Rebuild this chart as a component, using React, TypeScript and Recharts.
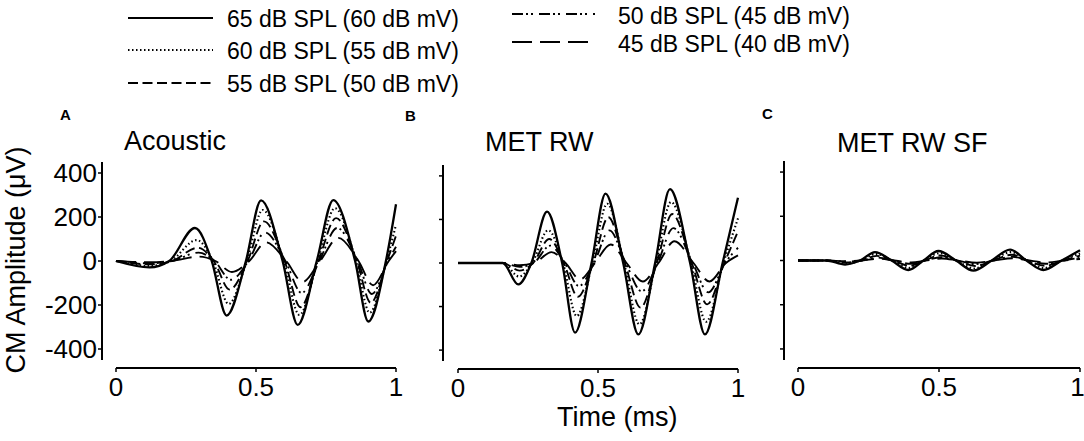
import { Line, LineChart, XAxis, YAxis } from "recharts";

type Pt = [number, number];

const FONT = "'Liberation Sans', Arial, Helvetica, sans-serif";

// stimulus levels, legend order
const levels = [
  "65 dB SPL (60 dB mV)",
  "60 dB SPL (55 dB mV)",
  "55 dB SPL (50 dB mV)",
  "50 dB SPL (45 dB mV)",
  "45 dB SPL (40 dB mV)",
];
const yTicks = [-400, -200, 0, 200, 400];
const xTicks = [0, 0.5, 1];

// [time ms, amplitude uV] at peaks / troughs / zero crossings
const acoustic65: Pt[] = [[0, 0], [0.12, -29], [0.19, 0], [0.282, 150], [0.342, 0], [0.395, -248], [0.464, 0], [0.518, 276], [0.595, 0], [0.649, -290], [0.717, 0], [0.776, 277], [0.854, 0], [0.901, -275], [0.964, 0], [1, 258]];
const acoustic60: Pt[] = [[0, 0], [0.12, -22], [0.195, 0], [0.288, 95], [0.346, 0], [0.402, -195], [0.467, 0], [0.524, 232], [0.599, 0], [0.655, -245], [0.72, 0], [0.782, 240], [0.857, 0], [0.906, -235], [0.966, 0], [1, 165]];
const acoustic55: Pt[] = [[0, 0], [0.12, -15], [0.2, 0], [0.292, 60], [0.349, 0], [0.406, -130], [0.47, 0], [0.528, 180], [0.602, 0], [0.659, -210], [0.723, 0], [0.786, 195], [0.86, 0], [0.91, -190], [0.968, 0], [1, 115]];
const acoustic50: Pt[] = [[0, 0], [0.12, -10], [0.2, 0], [0.295, 38], [0.352, 0], [0.41, -85], [0.473, 0], [0.532, 130], [0.605, 0], [0.663, -145], [0.726, 0], [0.79, 150], [0.863, 0], [0.914, -150], [0.971, 0], [1, 65]];
const acoustic45: Pt[] = [[0, 0], [0.12, -6], [0.2, 0], [0.298, 20], [0.355, 0], [0.414, -50], [0.476, 0], [0.536, 85], [0.608, 0], [0.667, -95], [0.729, 0], [0.794, 105], [0.866, 0], [0.918, -110], [0.974, 0], [1, 45]];

const metRw65: Pt[] = [[0, 0], [0.16, 0], [0.215, -98], [0.262, 0], [0.318, 236], [0.372, 0], [0.418, -320], [0.477, 0], [0.527, 319], [0.59, 0], [0.644, -328], [0.704, 0], [0.757, 339], [0.829, 0], [0.882, -328], [0.945, 0], [1, 300]];
const metRw60: Pt[] = [[0, 0], [0.16, 0], [0.218, -62], [0.265, 0], [0.322, 150], [0.375, 0], [0.424, -244], [0.48, 0], [0.533, 272], [0.593, 0], [0.648, -282], [0.707, 0], [0.761, 280], [0.832, 0], [0.886, -270], [0.948, 0], [1, 205]];
const metRw55: Pt[] = [[0, 0], [0.16, 0], [0.22, -35], [0.268, 0], [0.326, 110], [0.378, 0], [0.428, -155], [0.483, 0], [0.537, 210], [0.596, 0], [0.652, -205], [0.71, 0], [0.765, 225], [0.835, 0], [0.89, -190], [0.951, 0], [1, 145]];
const metRw50: Pt[] = [[0, 0], [0.16, 0], [0.22, -18], [0.27, 0], [0.33, 80], [0.381, 0], [0.432, -106], [0.486, 0], [0.541, 150], [0.599, 0], [0.656, -130], [0.713, 0], [0.769, 160], [0.838, 0], [0.894, -135], [0.954, 0], [1, 70]];
const metRw45: Pt[] = [[0, 0], [0.16, 0], [0.22, -10], [0.272, 0], [0.334, 50], [0.384, 0], [0.436, -75], [0.489, 0], [0.545, 85], [0.602, 0], [0.66, -85], [0.716, 0], [0.773, 100], [0.841, 0], [0.898, -85], [0.957, 0], [1, 35]];

const metRwSf65: Pt[] = [[0, 0], [0.1, 0], [0.167, -18], [0.22, 0], [0.273, 38], [0.332, 0], [0.391, -43], [0.445, 0], [0.498, 43], [0.56, 0], [0.622, -46], [0.687, 0], [0.752, 49], [0.81, 0], [0.87, -43], [0.935, 0], [1, 46]];
const metRwSf60: Pt[] = [[0, 0], [0.1, 0], [0.168, -14], [0.222, 0], [0.276, 30], [0.334, 0], [0.393, -34], [0.447, 0], [0.501, 33], [0.562, 0], [0.625, -36], [0.689, 0], [0.755, 38], [0.812, 0], [0.873, -34], [0.937, 0], [1, 32]];
const metRwSf55: Pt[] = [[0, 0], [0.1, 0], [0.17, -9], [0.224, 0], [0.279, 21], [0.336, 0], [0.396, -24], [0.449, 0], [0.504, 23], [0.564, 0], [0.628, -25], [0.691, 0], [0.758, 26], [0.814, 0], [0.876, -24], [0.939, 0], [1, 22]];
const metRwSf50: Pt[] = [[0, 0], [0.1, 0], [0.17, -5], [0.226, 0], [0.282, 13], [0.338, 0], [0.399, -15], [0.451, 0], [0.507, 15], [0.566, 0], [0.631, -16], [0.693, 0], [0.761, 17], [0.816, 0], [0.879, -15], [0.941, 0], [1, 12]];
const metRwSf45: Pt[] = [[0, 0], [0.1, 0], [0.17, -3], [0.228, 0], [0.285, 8], [0.34, 0], [0.402, -9], [0.453, 0], [0.51, 9], [0.568, 0], [0.634, -10], [0.695, 0], [0.764, 10], [0.818, 0], [0.882, -9], [0.943, 0], [1, 7]];

// line styles per level (solid, dotted, dashed, dash-dot-dot, long dash)
const lineStyles = [
  { dash: undefined, width: 2.3 },
  { dash: "1.5 2.5", width: 2.1 },
  { dash: "10 4.5", width: 1.9 },
  { dash: "11 3 2 3 2 6", width: 1.9 },
  { dash: "20 8", width: 1.9 },
];

const W = 1084;
const H = 441;
const Y_AXIS_W = 60;
const X_AXIS_H = 40;
const Y_PAD = 8;

type PanelProps = {
  series: Pt[][];
  top: number;
  axisY: number;
  axisX: number;
  x0: number;
  x1: number;
  labelled: boolean;
};

function Panel({ series, top, axisY, axisX, x0, x1, labelled }: PanelProps) {
  const plotH = axisY - top;
  const tickStyle = { fill: "#000", fontSize: 26, fontFamily: FONT };
  // draw lower levels first so the solid 65 dB trace sits on top
  const order = [4, 3, 2, 1, 0];
  return (
    <div style={{ position: "absolute", left: 0, top: 0 }}>
      <LineChart
        width={W}
        height={H}
        margin={{ top, left: axisX - Y_AXIS_W, right: W - x1, bottom: H - axisY - X_AXIS_H }}
      >
        <XAxis
          type="number"
          dataKey="t"
          domain={[0, 1]}
          ticks={xTicks}
          height={X_AXIS_H}
          padding={{ left: x0 - axisX, right: 0 }}
          axisLine={{ stroke: "#000", strokeWidth: 2, strokeDasharray: `0 ${x0 - axisX} 2000` }}
          tickLine={{ stroke: "#000", strokeWidth: 1.5 }}
          tickSize={4}
          tickMargin={6}
          tick={tickStyle}
        />
        <YAxis
          type="number"
          domain={[-450, 450]}
          ticks={yTicks}
          width={Y_AXIS_W}
          padding={{ top: 0, bottom: Y_PAD }}
          axisLine={{ stroke: "#000", strokeWidth: 2, strokeDasharray: `${plotH - Y_PAD} 2000` }}
          tickLine={{ stroke: "#000", strokeWidth: 1.5 }}
          tickSize={4}
          tickMargin={1}
          tick={tickStyle}
          tickFormatter={labelled ? undefined : () => ""}
        />
        {order.map((i) => (
          <Line
            key={i}
            data={series[i].map(([t, v]) => ({ t, v }))}
            dataKey="v"
            type="monotone"
            stroke="#000"
            strokeWidth={lineStyles[i].width}
            strokeDasharray={lineStyles[i].dash}
            dot={false}
            activeDot={false}
            isAnimationActive={false}
          />
        ))}
      </LineChart>
    </div>
  );
}

// legend placement: [sample x1, sample x2, line y, text x, text cap-centre y]
const legendSlots = [
  [128, 213, 18, 227, 19],
  [128, 213, 50, 227, 51],
  [128, 213, 83, 227, 84.5],
  [512, 595, 14, 618, 16],
  [512, 595, 42, 618, 44.5],
];

const textBase: React.CSSProperties = {
  position: "absolute",
  fontFamily: FONT,
  color: "#000",
  lineHeight: 1,
  whiteSpace: "nowrap",
};

function Legend() {
  return (
    <>
      <svg width={W} height={100} style={{ position: "absolute", left: 0, top: 0 }}>
        {legendSlots.map(([a, b, y], i) => (
          <line
            key={i}
            x1={a}
            x2={b}
            y1={y}
            y2={y}
            stroke="#000"
            strokeWidth={2}
            strokeDasharray={lineStyles[i].dash}
          />
        ))}
      </svg>
      {legendSlots.map(([, , , tx, ty], i) => (
        <div key={i} style={{ ...textBase, fontSize: 23, left: tx, top: ty - 11.3 }}>
          {levels[i]}
        </div>
      ))}
    </>
  );
}

export default function App() {
  return (
    <div style={{ position: "absolute", left: 0, top: 0, width: W, height: H, background: "#fff", overflow: "hidden" }}>
      <Legend />

      <Panel
        series={[acoustic65, acoustic60, acoustic55, acoustic50, acoustic45]}
        top={162}
        axisY={368}
        axisX={102}
        x0={116}
        x1={396}
        labelled
      />
      <Panel
        series={[metRw65, metRw60, metRw55, metRw50, metRw45]}
        top={165}
        axisY={369}
        axisX={443}
        x0={458}
        x1={738}
        labelled={false}
      />
      <Panel
        series={[metRwSf65, metRwSf60, metRwSf55, metRwSf50, metRwSf45]}
        top={161}
        axisY={368}
        axisX={784}
        x0={798}
        x1={1080}
        labelled={false}
      />

      <div style={{ ...textBase, fontSize: 15, fontWeight: 700, left: 60, top: 107 }}>A</div>
      <div style={{ ...textBase, fontSize: 15, fontWeight: 700, left: 405, top: 108 }}>B</div>
      <div style={{ ...textBase, fontSize: 15, fontWeight: 700, left: 762, top: 106 }}>C</div>

      <div style={{ ...textBase, fontSize: 27, left: 124, top: 128 }}>Acoustic</div>
      <div style={{ ...textBase, fontSize: 27, left: 485, top: 129 }}>MET RW</div>
      <div style={{ ...textBase, fontSize: 27, left: 837, top: 130 }}>MET RW SF</div>

      <div style={{ ...textBase, fontSize: 27, left: 557, top: 404 }}>Time (ms)</div>
      <div
        style={{
          ...textBase,
          fontSize: 27,
          left: 16,
          top: 260,
          transform: "translate(-50%, -50%) rotate(-90deg)",
        }}
      >
        CM Amplitude (μV)
      </div>
    </div>
  );
}
